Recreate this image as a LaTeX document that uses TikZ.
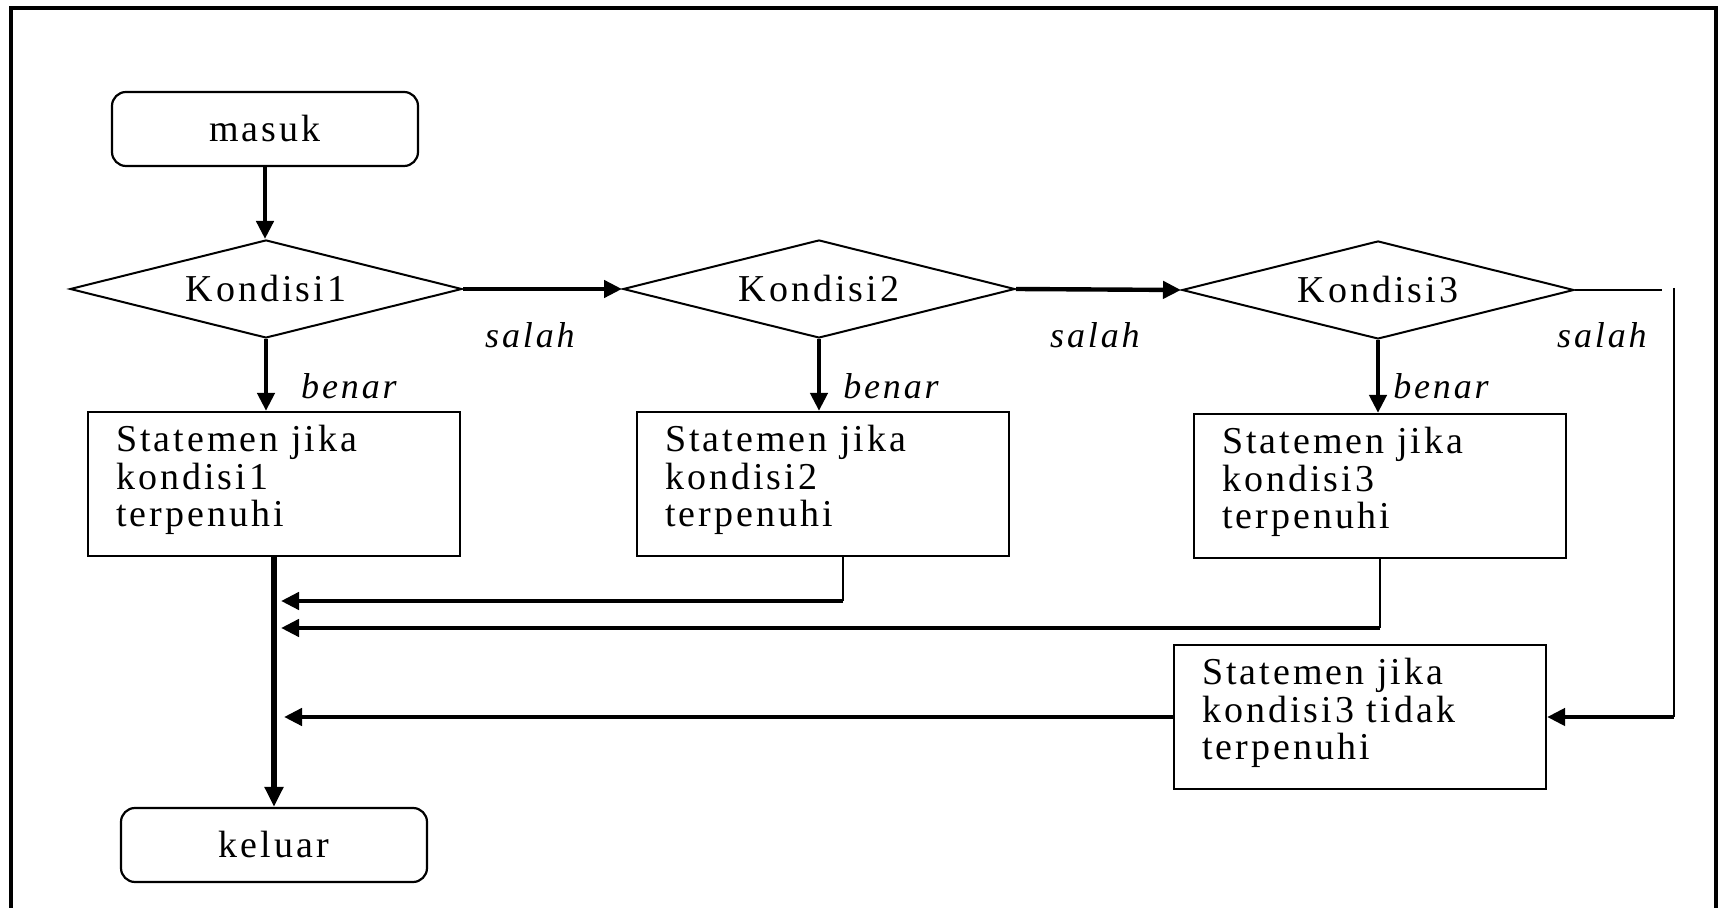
\documentclass[tikz,border=0pt]{standalone}
\usepackage{fontspec}
\setmainfont{Liberation Serif}[LetterSpace=8]
\usetikzlibrary{shapes.geometric,arrows.meta}
\newcommand\mybotpad{\endgraf\vspace*{4pt}}
\begin{document}
\begin{tikzpicture}[x=0.5pt,y=-0.5pt,
  every node/.style={font=\fontsize{19}{18.6}\selectfont, inner sep=0pt},
  term/.style={draw, line width=1.1pt, rounded corners=7pt, minimum width=153pt, minimum height=37pt},
  cond/.style={draw, diamond, aspect=4, line width=1pt, minimum width=196pt, minimum height=49pt},
  stmt/.style={draw, line width=1.1pt, align=left, text width=158pt, inner xsep=14pt, minimum height=72pt,
    execute at end node=\mybotpad},
  lbl/.style={font=\fontsize{18}{18}\selectfont\itshape},
  arr/.style={line width=2.2pt, -{Triangle[length=9pt,width=8.5pt]}},
  mainarr/.style={line width=3pt, -{Triangle[length=10pt,width=9pt]}},
  thinline/.style={line width=1.1pt},
  frameline/.style={line width=1.8pt}]
\useasboundingbox (0,0) rectangle (1721,908);
\draw[frameline] (11,910) -- (11,8) -- (1716,8) -- (1716,910);

\node[term] (masuk) at (265,129) {masuk};
\node[cond] (k1) at (266,289) {Kondisi1};
\node[cond] (k2) at (819,289) {Kondisi2};
\node[cond] (k3) at (1378,290) {Kondisi3};
\node[stmt] (s1) at (274,484) {Statemen jika\\kondisi1\\terpenuhi};
\node[stmt] (s2) at (823,484) {Statemen jika\\kondisi2\\terpenuhi};
\node[stmt] (s3) at (1380,486) {Statemen jika\\kondisi3\\terpenuhi};
\node[stmt] (s4) at (1360,717) {Statemen jika\\kondisi3 tidak\\terpenuhi};
\node[term] (keluar) at (274,845) {keluar};

\node[lbl] (sal1) at (530,335) {salah};
\node[lbl] (sal2) at (1095,335) {salah};
\node[lbl] (sal3) at (1602,335) {salah};
\node[lbl] (ben1) at (349,386) {benar};
\node[lbl] (ben2) at (891,386) {benar};
\node[lbl] (ben3) at (1441,386) {benar};

\coordinate (j) at (281,0);
\coordinate (j4) at (284,0);
\coordinate (b2) at (843,556);
\coordinate (c2) at (843,601);
\coordinate (c3) at (1380,628);
\coordinate (r1) at (1662,290);
\coordinate (r2) at (1674,288);
\coordinate (r3) at (1674,717);

\draw[arr] (masuk.south) -- (masuk.south |- k1.north);
\draw[arr] (k1.south) -- (k1.south |- s1.north);
\draw[arr] (k2.south) -- (k2.south |- s2.north);
\draw[arr] (k3.south) -- (k3.south |- s3.north);
\draw[arr] (k1.east) -- (k2.west);
\draw[arr] (k2.east) -- (k3.west);
\draw[thinline] (k3.east) -- (k3.east -| r1);
\draw[thinline] (r2) -- (r3);
\draw[arr] (r3) -- (s4.east);
\draw[mainarr] (s1.south) -- (keluar.north);
\draw[thinline] (b2) -- (c2);
\draw[arr] (c2) -- (c2 -| j);
\draw[thinline] (s3.south) -- (c3);
\draw[arr] (c3) -- (c3 -| j);
\draw[arr] (s4.west) -- (s4.west -| j4);
\end{tikzpicture}
\end{document}
